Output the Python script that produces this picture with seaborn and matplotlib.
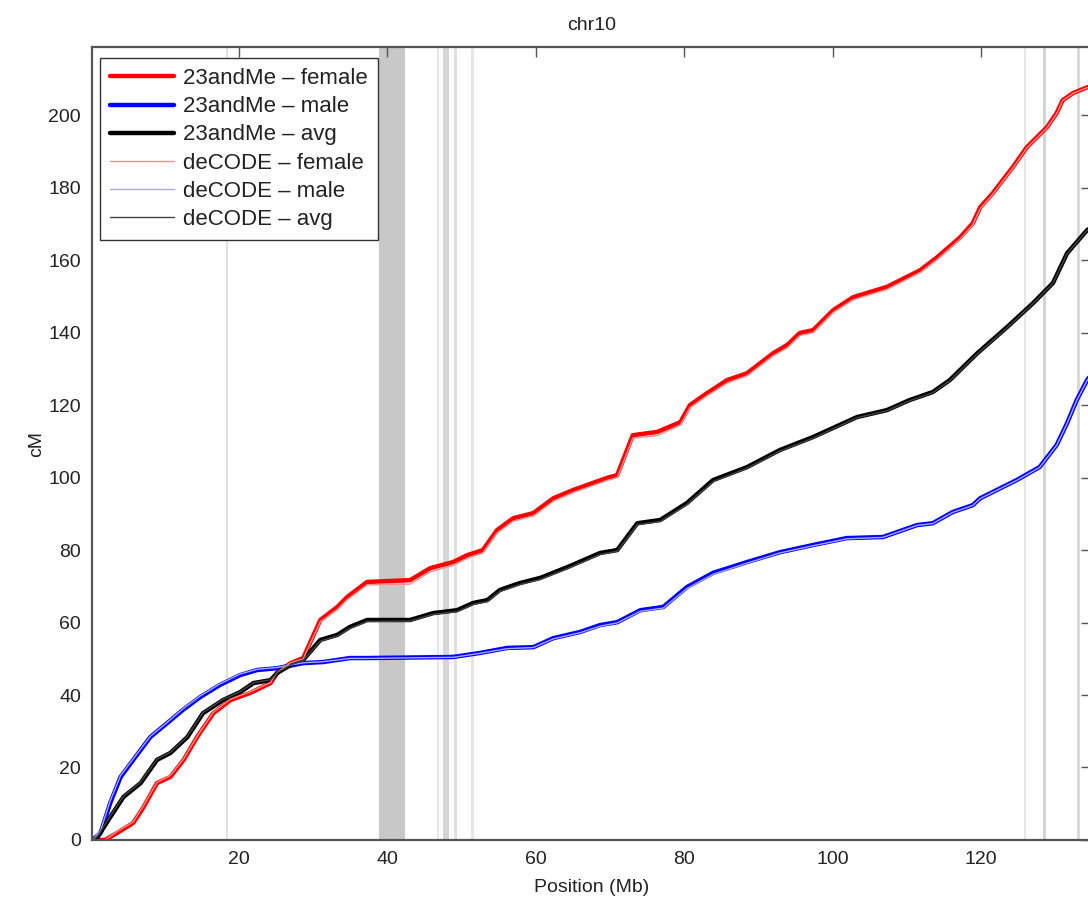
import pandas as pd
import matplotlib.pyplot as plt
import seaborn as sns

# genetic map of chr10 (position in Mb, cumulative cM)
female_pos = [0.3, 2.0, 3.6, 5.8, 7.2, 9.0, 10.8, 12.6, 14.4, 16.6, 18.9, 21.6, 24.3, 25.2, 27.0,
              28.7, 31.0, 33.3, 34.6, 37.3, 43.1, 45.8, 48.9, 50.8, 52.9, 54.8, 57.0, 59.7, 62.4,
              65.1, 69.6, 71.0, 73.1, 76.4, 79.5, 80.8, 83.1, 85.8, 88.5, 92.0, 93.9, 95.6, 97.4,
              100.1, 102.8, 107.3, 111.8, 114.1, 117.2, 118.9, 119.9, 121.6, 124.3, 126.2, 128.9,
              130.2, 131.0, 132.4, 134.3, 135.4]
female_cm = [0.0, 0.0, 1.9, 4.7, 9.1, 15.7, 17.4, 22.1, 28.4, 35.0, 38.6, 40.6, 43.3, 46.1, 48.8,
             50.2, 60.7, 64.3, 67.0, 71.2, 71.7, 75.0, 76.7, 78.6, 80.0, 85.5, 88.8, 90.2, 94.3,
             96.6, 99.9, 100.7, 111.7, 112.6, 115.3, 120.0, 123.3, 126.9, 128.8, 134.3, 136.6, 139.9,
             140.7, 146.2, 149.8, 152.6, 157.2, 160.8, 166.3, 170.2, 174.6, 178.5, 185.7, 191.2,
             196.7, 200.6, 204.1, 206.1, 207.7, 208.0]

male_pos = [0.3, 1.4, 2.7, 4.1, 5.8, 8.1, 10.4, 12.5, 14.8, 17.5, 20.2, 22.5, 25.2, 28.7, 31.4,
            35.0, 37.3, 48.9, 52.5, 56.2, 59.7, 62.4, 66.0, 68.7, 71.0, 74.1, 77.2, 80.4, 83.9,
            88.5, 92.9, 97.4, 101.9, 106.8, 111.4, 113.5, 116.2, 118.9, 119.9, 124.8, 127.9,
            130.2, 131.6, 132.9, 134.3, 135.4]
male_cm = [0.0, 1.9, 10.2, 17.4, 22.1, 28.4, 32.3, 35.9, 39.4, 42.8, 45.5, 46.9, 47.4, 48.8, 49.1,
           50.2, 50.2, 50.5, 51.6, 53.0, 53.2, 55.7, 57.4, 59.3, 60.1, 63.4, 64.3, 69.8, 73.7,
           76.7, 79.4, 81.4, 83.3, 83.6, 86.9, 87.4, 90.5, 92.4, 94.3, 99.3, 102.9, 109.0, 115.0,
           121.4, 126.9, 130.0]

avg_pos = [0.3, 1.0, 2.7, 4.5, 6.8, 9.0, 10.8, 13.1, 15.2, 17.9, 20.2, 22.0, 24.3, 25.2, 27.0,
           28.7, 31.0, 33.3, 35.0, 37.3, 43.1, 46.2, 49.4, 51.6, 53.5, 55.2, 57.9, 60.6, 64.3,
           68.7, 71.0, 73.7, 76.8, 80.4, 83.9, 88.5, 92.9, 97.4, 103.3, 107.3, 110.4, 113.5,
           115.8, 119.5, 123.5, 127.0, 129.7, 131.6, 134.3, 135.4]
avg_cm = [0.0, 0.8, 6.3, 11.9, 15.7, 22.1, 24.0, 28.4, 35.0, 38.6, 40.8, 43.3, 44.1, 46.1, 48.3,
          49.7, 55.2, 56.6, 58.8, 60.7, 60.7, 62.6, 63.4, 65.4, 66.2, 69.0, 70.9, 72.3, 75.3,
          79.2, 80.0, 87.4, 88.3, 93.0, 99.3, 102.9, 107.6, 111.2, 116.7, 118.6, 121.4, 123.6,
          126.9, 134.3, 141.5, 148.1, 153.7, 161.9, 168.3, 169.5]

# deCODE map on the same positions
dc_female_cm = [0.0, 0.0, 2.3, 5.0, 9.5, 15.9, 17.8, 22.4, 28.6, 35.3, 38.9, 40.9, 43.5, 46.3, 48.9,
                50.0, 60.2, 63.6, 66.3, 70.4, 70.6, 74.0, 75.8, 77.7, 79.2, 84.7, 88.0, 89.4, 93.5,
                95.9, 99.2, 100.0, 110.9, 111.6, 114.5, 119.3, 122.6, 126.1, 128.1, 133.6, 135.8,
                139.2, 140.0, 145.6, 149.1, 151.9, 156.6, 160.2, 165.8, 169.8, 174.2, 178.2, 185.4,
                191.0, 196.5, 200.4, 204.0, 206.0, 207.6, 208.0]
dc_male_cm = [0.0, 2.6, 10.8, 17.8, 22.4, 28.6, 32.5, 36.2, 39.7, 43.1, 45.8, 47.1, 47.6, 48.9,
              49.2, 50.1, 50.1, 50.4, 51.5, 52.8, 53.1, 55.5, 57.2, 59.0, 59.9, 63.1, 64.0, 69.4,
              73.3, 76.4, 79.2, 81.2, 83.1, 83.5, 86.8, 87.3, 90.4, 92.3, 94.2, 99.2, 102.8,
              108.9, 114.9, 121.3, 126.8, 130.0]
dc_avg_cm = [0.0, 1.0, 6.6, 12.1, 16.0, 22.3, 24.2, 28.6, 35.2, 38.8, 40.9, 43.4, 44.2, 46.2, 48.3,
             49.5, 54.9, 56.3, 58.4, 60.3, 60.4, 62.3, 63.0, 65.0, 65.8, 68.6, 70.5, 71.9, 74.9,
             78.8, 79.7, 87.0, 87.9, 92.6, 98.9, 102.6, 107.3, 110.9, 116.5, 118.4, 121.2, 123.4,
             126.7, 134.1, 141.3, 148.0, 153.6, 161.8, 168.2, 169.5]

# assembly gaps / centromere (Mb)
gap_start = [18.35, 38.9, 46.7, 47.5, 49.0, 51.35, 125.85, 128.35, 133.0]
gap_end = [18.6, 42.4, 47.0, 48.4, 49.35, 51.65, 126.1, 128.8, 133.4]
gap_shade = ['#e0e0e0', '#c8c8c8', '#e6e6e6', '#d6d6d6', '#e0e0e0', '#e6e6e6', '#e6e6e6', '#d4d4d4', '#dadada']

frames = []
for name, pos, cm in [('23andMe \u2013 female', female_pos, female_cm),
                      ('23andMe \u2013 male', male_pos, male_cm),
                      ('23andMe \u2013 avg', avg_pos, avg_cm),
                      ('deCODE \u2013 female', female_pos, dc_female_cm),
                      ('deCODE \u2013 male', male_pos, dc_male_cm),
                      ('deCODE \u2013 avg', avg_pos, dc_avg_cm)]:
    frames.append(pd.DataFrame({'pos': pos, 'cM': cm, 'map': name}))
df = pd.concat(frames, ignore_index=True)

sns.set_style('white')
plt.rcParams['font.family'] = ['Liberation Sans', 'DejaVu Sans']

fig = plt.figure(figsize=(10.88, 9), dpi=100)
ax = fig.add_axes([0.0846, 0.0667, 0.918, 0.881])

for s, e, c in zip(gap_start, gap_end, gap_shade):
    ax.axvspan(s, e, color=c, lw=0, zorder=0)

palette = {'23andMe \u2013 female': 'red', '23andMe \u2013 male': 'blue', '23andMe \u2013 avg': 'black',
           'deCODE \u2013 female': '#ff8c8c', 'deCODE \u2013 male': '#a8a8ff', 'deCODE \u2013 avg': '#444444'}
widths = {'23andMe \u2013 female': 3.2, '23andMe \u2013 male': 3.2, '23andMe \u2013 avg': 3.2,
          'deCODE \u2013 female': 1.0, 'deCODE \u2013 male': 1.0, 'deCODE \u2013 avg': 1.0}

for name in palette:
    sub = df[df['map'] == name]
    sns.lineplot(data=sub, x='pos', y='cM', color=palette[name], lw=widths[name],
                 sort=False, estimator=None, label=name, ax=ax)

ax.set_xlim(0.25, 134.8)
ax.set_ylim(0, 218.8)
ax.set_xticks(range(20, 121, 20))
ax.set_yticks(range(0, 201, 20))
ax.tick_params(direction='in', length=7, width=1.0, colors='#555555', labelcolor='#222222',
               labelsize=14, top=True, right=True, pad=8)
for sp in ax.spines.values():
    sp.set_color('#555555')
    sp.set_linewidth(1.6)

ax.set_title('chr10', fontsize=14, color='#222222', pad=12)
ax.set_xlabel('Position (Mb)', fontsize=14, color='#222222', labelpad=8)
ax.set_ylabel('cM', fontsize=14, color='#222222', labelpad=2)

leg = ax.legend(loc='upper left', fontsize=16, frameon=True, fancybox=False, framealpha=1,
                edgecolor='#333333', handlelength=2.9, labelspacing=0.32, borderpad=0.45,
                handletextpad=0.4, borderaxespad=0, bbox_to_anchor=(0.008, 0.986))
leg.get_frame().set_linewidth(1.0)
for t in leg.get_texts():
    t.set_color('#222222')

plt.savefig('out.png', dpi=100)
